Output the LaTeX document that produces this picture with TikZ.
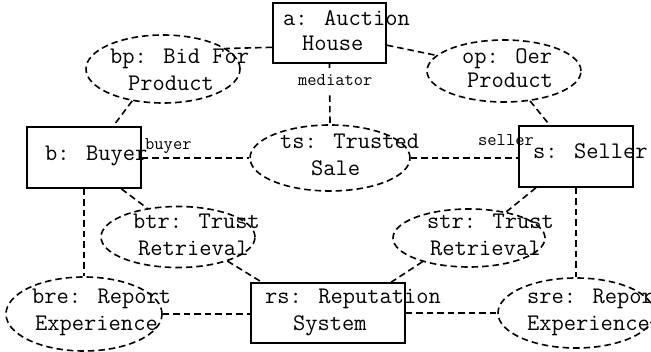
\documentclass[tikz,border=0pt]{standalone}
\usepackage{fontspec}
\usetikzlibrary{shapes.geometric}
\tikzset{
  box/.style={draw, rectangle, line width=1.8pt, inner sep=0pt},
  oval/.style={draw, ellipse, line width=1.6pt, dash pattern=on 6.5pt off 4pt, inner sep=0pt},
  conn/.style={line width=1.6pt, dash pattern=on 6.5pt off 4pt},
  txt/.style={font=\fontsize{23.8}{27}\selectfont\ttfamily, anchor=base west, inner sep=0pt},
  lbl/.style={font=\fontsize{18}{20}\selectfont\ttfamily, anchor=base west, inner sep=0pt},
}
\begin{document}
\begin{tikzpicture}[x=1pt,y=-1pt]
\useasboundingbox (0,0) rectangle (651,352);
% boxes
\node[box, minimum width=113pt, minimum height=60pt] (a) at (329.5,33) {};
\node[box, minimum width=114pt, minimum height=61pt] (b) at (84,157.5) {};
\node[box, minimum width=114pt, minimum height=61pt] (s) at (576,156.5) {};
\node[box, minimum width=154pt, minimum height=60pt] (rs) at (328,313) {};
% ellipses
\node[oval, minimum width=154pt, minimum height=68pt] (bp) at (163,69) {};
\node[oval, minimum width=154pt, minimum height=62pt] (op) at (504,71) {};
\node[oval, minimum width=160pt, minimum height=66pt] (ts) at (330,158) {};
\node[oval, minimum width=154pt, minimum height=61pt] (btr) at (178,237) {};
\node[oval, minimum width=152pt, minimum height=58pt] (str) at (469,238) {};
\node[oval, minimum width=156pt, minimum height=74pt] (bre) at (84,314) {};
\node[oval, minimum width=156pt, minimum height=70pt] (sre) at (576,313) {};
% connectors
\draw[conn] (a.194) -- (bp.18);
\draw[conn] (a.348) -- (op.167);
\draw[conn] (a.south) -- (ts.north);
\draw[conn] (bp.226) -- (b.47);
\draw[conn] (op.311) -- (s.130);
\draw[conn] (ts.west -| b.east) -- (ts.west);
\draw[conn] (ts.east) -- (ts.east -| s.west);
\draw[conn] (b.320) -- (btr.137);
\draw[conn] (b.south) -- (bre.north);
\draw[conn] (btr.334) -- (rs.155);
\draw[conn] (bre.east) -- (bre.east -| rs.west);
\draw[conn] (s.218) -- (str.35);
\draw[conn] (s.south) -- (sre.north);
\draw[conn] (str.207) -- (rs.26);
\draw[conn] (rs.east) -- (rs.east -| sre.west);
% connector labels
\node[lbl, fill=white, inner ysep=7pt] (lmed) at (298,86) {mediator};
\node[lbl] (lbuy) at (145,150) {buyer};
\node[lbl] (lsel) at (478,146) {seller};
% texts
\node[txt] (ta1) at (283,26) {a: Auction};
\node[txt] (ta2) at (302,51) {House};
\node[txt] (tbp1) at (110,64) {bp: Bid For};
\node[txt] (tbp2) at (128,91) {Product};
\node[txt] (top1) at (462,64) {op: Oer};
\node[txt] (top2) at (467,88) {Product};
\node[txt] (tb) at (45,161) {b: Buyer};
\node[txt] (tts1) at (280,149) {ts: Trusted};
\node[txt] (tts2) at (311,176) {Sale};
\node[txt] (ts1) at (533,159) {s: Seller};
\node[txt] (tbtr1) at (133,229) {btr: Trust};
\node[txt] (tbtr2) at (138,256) {Retrieval};
\node[txt] (tstr1) at (427,229) {str: Trust};
\node[txt] (tstr2) at (430,256) {Retrieval};
\node[txt] (tbre1) at (32,304) {bre: Report};
\node[txt] (tbre2) at (35,331) {Experience};
\node[txt] (trs1) at (265,304) {rs: Reputation};
\node[txt] (trs2) at (293,331) {System};
\node[txt] (tsre1) at (527,304) {sre: Report};
\node[txt] (tsre2) at (527,331) {Experience};
\end{tikzpicture}
\end{document}
